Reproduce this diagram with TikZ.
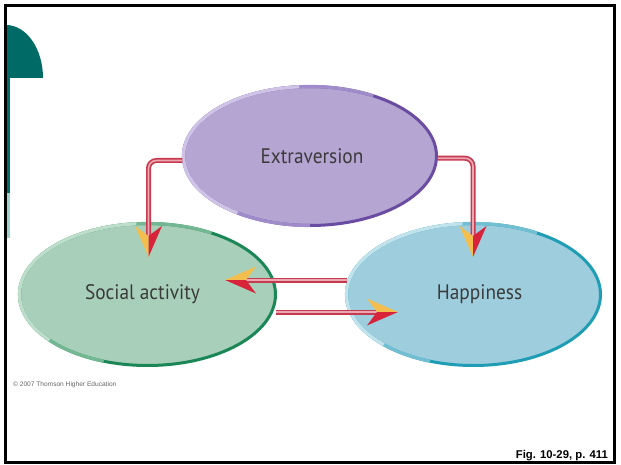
\documentclass[tikz,border=0pt]{standalone}
\usepackage{fontspec}
\setmainfont{PT Sans}
\newfontfamily\arialfont{Liberation Sans}
\newfontfamily\bubblefont[FakeStretch=0.92]{PT Sans}
\usetikzlibrary{shapes.geometric}
\definecolor{tealdark}{HTML}{006A66}
\definecolor{teallight}{HTML}{9ED5CF}
\definecolor{extfill}{HTML}{B4A5D3}
\definecolor{extdark}{HTML}{6A4CA3}
\definecolor{extmid}{HTML}{9F8CCB}
\definecolor{extlight}{HTML}{CFC4E6}
\definecolor{socfill}{HTML}{A8CFB9}
\definecolor{socdark}{HTML}{1B8757}
\definecolor{socmid}{HTML}{74B893}
\definecolor{soclight}{HTML}{BFDDCB}
\definecolor{hapfill}{HTML}{9ECDDD}
\definecolor{hapdark}{HTML}{1E9DB5}
\definecolor{hapmid}{HTML}{72BED2}
\definecolor{haplight}{HTML}{C2E2EC}
\definecolor{linkred}{HTML}{C63A50}
\definecolor{linkpink}{HTML}{EBA7B2}
\definecolor{arrowred}{HTML}{D8243A}
\definecolor{arrowyel}{HTML}{F3BE4E}
\definecolor{txtgray}{HTML}{3A3A3A}
\begin{document}
\begin{tikzpicture}[x=1pt,y=1pt,
  bubble/.style={ellipse, inner sep=0pt, line width=3pt, text=txtgray,
    font=\bubblefont\fontsize{21}{22}\selectfont},
  rim/.style={line width=3.2pt},
  link/.style={line width=5pt, draw=linkred, rounded corners=8pt, shorten >=20pt},
  linkin/.style={line width=1.6pt, draw=linkpink, rounded corners=8pt, shorten >=20pt},
  ahead/.pic={
    \fill[arrowyel] (0,0) -- (-31,13.5) -- (-21,0) -- cycle;
    \fill[arrowred] (0,0) -- (-31,-13.5) -- (-21,0) -- cycle;
  }]
\useasboundingbox (0,0) rectangle (621,464);
% decoration at left
\fill[tealdark] (6,386) -- (43,386) arc[start angle=0,end angle=90,x radius=37,y radius=53] -- cycle;
\fill[tealdark] (5,271) rectangle (10,386);
\fill[teallight] (5,226) rectangle (10,271);
% frame
\draw[line width=2.6pt] (5.5,1.5) rectangle (614.5,458.5);
% ellipses
\node[bubble, fill=extfill, draw=extdark, minimum width=253pt, minimum height=139pt] (ext) at (310,308) {\hspace*{4pt}Extraversion};
\draw[rim, extmid, shift={(ext.center)}] (60:126.5 and 69.5) arc[start angle=60,end angle=270,x radius=126.5,y radius=69.5];
\draw[rim, extlight, shift={(ext.center)}] (95:126.5 and 69.5) arc[start angle=95,end angle=235,x radius=126.5,y radius=69.5];
\node[bubble, fill=socfill, draw=socdark, minimum width=256pt, minimum height=142pt] (soc) at (147.5,169.5) {\hspace*{-10pt}Social activity};
\draw[rim, socmid, shift={(soc.center)}] (60:128 and 71) arc[start angle=60,end angle=250,x radius=128,y radius=71];
\draw[rim, soclight, shift={(soc.center)}] (95:128 and 71) arc[start angle=95,end angle=220,x radius=128,y radius=71];
\node[bubble, fill=hapfill, draw=hapdark, minimum width=254pt, minimum height=142pt] (hap) at (473.5,169.5) {\hspace*{12pt}Happiness};
\draw[rim, hapmid, shift={(hap.center)}] (60:127 and 71) arc[start angle=60,end angle=250,x radius=127,y radius=71];
\draw[rim, haplight, shift={(hap.center)}] (95:127 and 71) arc[start angle=95,end angle=225,x radius=127,y radius=71];
% arrow tips
\coordinate (tipL) at (148.5,207);
\coordinate (tipR) at (473,207);
\coordinate (tipSoc) at (225,184);
\coordinate (tipHap) at (398,152);
% connectors
\draw[link] (ext.182) -| (tipL);
\draw[linkin] (ext.182) -| (tipL);
\draw[link] (ext.359) -| (tipR);
\draw[linkin] (ext.359) -| (tipR);
\draw[link] ([xshift=2pt]tipSoc -| hap.west) -- (tipSoc);
\draw[linkin] ([xshift=2pt]tipSoc -| hap.west) -- (tipSoc);
\draw[link] ([xshift=-1.5pt]tipHap -| soc.east) -- (tipHap);
\draw[linkin] ([xshift=-1.5pt]tipHap -| soc.east) -- (tipHap);
\pic[rotate=-90, yscale=-1] at (tipL) {ahead};
\pic[rotate=-90, yscale=-1] at (tipR) {ahead};
\pic[xscale=-1] at (tipSoc) {ahead};
\pic at (tipHap) {ahead};
% texts
\node[anchor=west, inner sep=0pt, font=\arialfont\fontsize{6.6}{7}\selectfont, text=black!60] (copy) at (13,79) {© 2007 Thomson Higher Education};
\node[anchor=base east, inner sep=0pt, font=\arialfont\bfseries\fontsize{11.3}{13}\selectfont] (fig) at (608,6) {Fig. 10-29, p. 411};
\end{tikzpicture}
\end{document}
